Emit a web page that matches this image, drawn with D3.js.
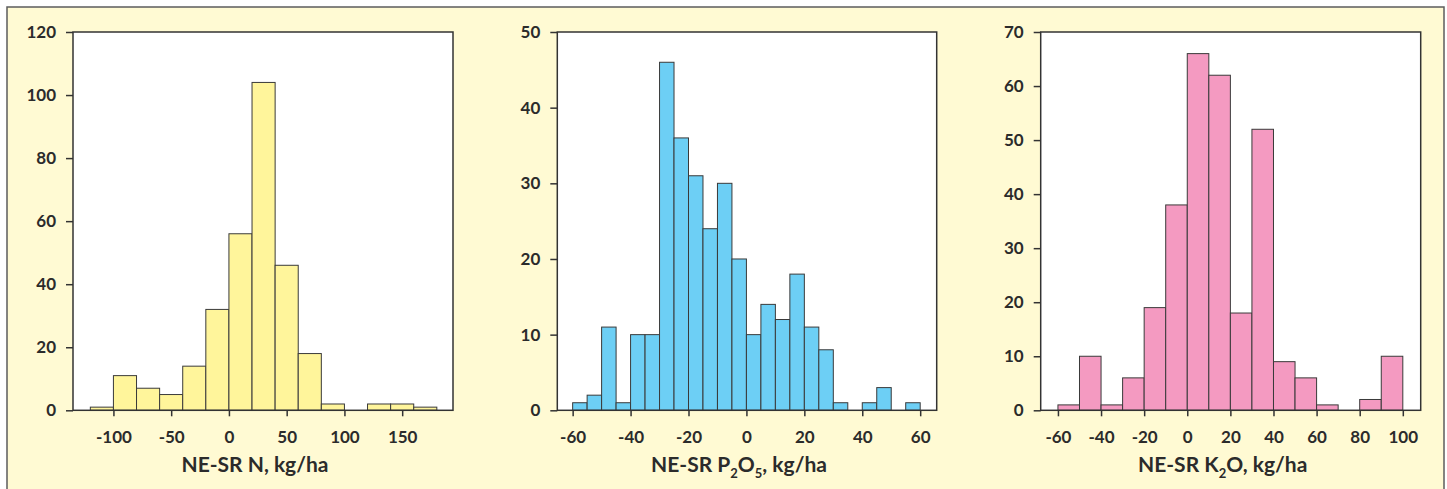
<!DOCTYPE html>
<html>
<head>
<meta charset="utf-8">
<script src="https://cdn.jsdelivr.net/npm/d3@7/dist/d3.min.js"></script>
<style>
  html, body { margin: 0; padding: 0; background: #ffffff; }
  svg { display: block; }
  text { font-family: Lato, "Open Sans", sans-serif; font-weight: 700; fill: #2b2b2b; }
</style>
</head>
<body>
<svg id="chart" width="1447" height="489"></svg>
<script>
// ---------- DATA ----------
// Panel 1: NE-SR N (bin edges, counts)
const nEdges  = [-120, -100, -80, -60, -40, -20, 0, 20, 40, 60, 80, 100, 120, 140, 160, 180];
const nCounts = [1, 11, 7, 5, 14, 32, 56, 104, 46, 18, 2, 0, 2, 2, 1];
const nXTicks = [-100, -50, 0, 50, 100, 150];
const nYTicks = [0, 20, 40, 60, 80, 100, 120];

// Panel 2: NE-SR P2O5
const pEdges  = [-60, -55, -50, -45, -40, -35, -30, -25, -20, -15, -10, -5, 0, 5, 10, 15, 20, 25, 30, 35, 40, 45, 50, 55, 60];
const pCounts = [1, 2, 11, 1, 10, 10, 46, 36, 31, 24, 30, 20, 10, 14, 12, 18, 11, 8, 1, 0, 1, 3, 0, 1];
const pXTicks = [-60, -40, -20, 0, 20, 40, 60];
const pYTicks = [0, 10, 20, 30, 40, 50];

// Panel 3: NE-SR K2O
const kEdges  = [-60, -50, -40, -30, -20, -10, 0, 10, 20, 30, 40, 50, 60, 70, 80, 90, 100];
const kCounts = [1, 10, 1, 6, 19, 38, 66, 62, 18, 52, 9, 6, 1, 0, 2, 10];
const kXTicks = [-60, -40, -20, 0, 20, 40, 60, 80, 100];
const kYTicks = [0, 10, 20, 30, 40, 50, 60, 70];

// ---------- LAYOUT ----------
const svg = d3.select("#chart");
const fmt = d => String(d);   // plain hyphen-minus, as in the original

svg.append("rect")
  .attr("x", 7).attr("y", 7)
  .attr("width", 1437).attr("height", 500)
  .attr("fill", "#fffad3")
  .attr("stroke", "#5c5c5c")
  .attr("stroke-width", 1.5);

const panels = [
  { edges: nEdges, counts: nCounts, xTicks: nXTicks, yTicks: nYTicks,
    xDom: [-135, 194], yMax: 120, box: [73, 32, 453, 410.3], fill: "#fff59b",
    title: [["NE-SR N, kg/ha", false]] },
  { edges: pEdges, counts: pCounts, xTicks: pXTicks, yTicks: pYTicks,
    xDom: [-65.3, 65.7], yMax: 50, box: [557.3, 32, 936.7, 410.3], fill: "#6dcff5",
    title: [["NE-SR P", false], ["2", true], ["O", false], ["5", true], [", kg/ha", false]] },
  { edges: kEdges, counts: kCounts, xTicks: kXTicks, yTicks: kYTicks,
    xDom: [-68, 108.3], yMax: 70, box: [1040.7, 32, 1420.7, 410.3], fill: "#f49ac1",
    title: [["NE-SR K", false], ["2", true], ["O, kg/ha", false]] }
];

panels.forEach(p => {
  const [x0, y0, x1, y1] = p.box;
  const x = d3.scaleLinear().domain(p.xDom).range([x0, x1]);
  const y = d3.scaleLinear().domain([0, p.yMax]).range([y1, y0]);
  const g = svg.append("g");

  g.append("rect")
    .attr("x", x0).attr("y", y0)
    .attr("width", x1 - x0).attr("height", y1 - y0)
    .attr("fill", "#ffffff");

  const bins = p.counts.map((c, i) => ({ a: p.edges[i], b: p.edges[i + 1], c }));
  g.selectAll("rect.bar")
    .data(bins.filter(d => d.c > 0))
    .join("rect")
    .attr("class", "bar")
    .attr("x", d => x(d.a))
    .attr("y", d => y(d.c))
    .attr("width", d => x(d.b) - x(d.a))
    .attr("height", d => y(0) - y(d.c))
    .attr("fill", p.fill)
    .attr("stroke", "#3a3a3a")
    .attr("stroke-width", 1);

  g.append("rect")
    .attr("x", x0).attr("y", y0)
    .attr("width", x1 - x0).attr("height", y1 - y0)
    .attr("fill", "none")
    .attr("stroke", "#333333")
    .attr("stroke-width", 1.5);

  const ya = g.append("g")
    .attr("transform", `translate(${x0},0)`)
    .call(d3.axisLeft(y).tickValues(p.yTicks).tickSize(7).tickPadding(10).tickFormat(fmt));
  ya.select(".domain").remove();
  ya.selectAll(".tick line").attr("stroke", "#333").attr("stroke-width", 1.5);
  ya.selectAll("text").style("font-size", "17px").attr("fill", "#2b2b2b")
    .style("font-family", "Lato, 'Open Sans', sans-serif").style("font-weight", 700);

  const xa = g.append("g")
    .attr("transform", `translate(0,${y1})`)
    .call(d3.axisBottom(x).tickValues(p.xTicks).tickSize(6).tickPadding(15).tickFormat(fmt));
  xa.select(".domain").remove();
  xa.selectAll(".tick line").attr("stroke", "#333").attr("stroke-width", 1.5);
  xa.selectAll("text").style("font-size", "17px").attr("fill", "#2b2b2b")
    .style("font-family", "Lato, 'Open Sans', sans-serif").style("font-weight", 700);

  const t = g.append("text")
    .attr("x", (x0 + x1) / 2 - 8)
    .attr("y", 472)
    .attr("text-anchor", "middle")
    .style("font-size", "21px");
  p.title.forEach(([s, sub], i) => {
    const ts = t.append("tspan").text(s);
    if (sub) ts.attr("dy", 6).style("font-size", "13px");
    else if (i > 0 && p.title[i - 1][1]) ts.attr("dy", -6);
  });
});
</script>
</body>
</html>
